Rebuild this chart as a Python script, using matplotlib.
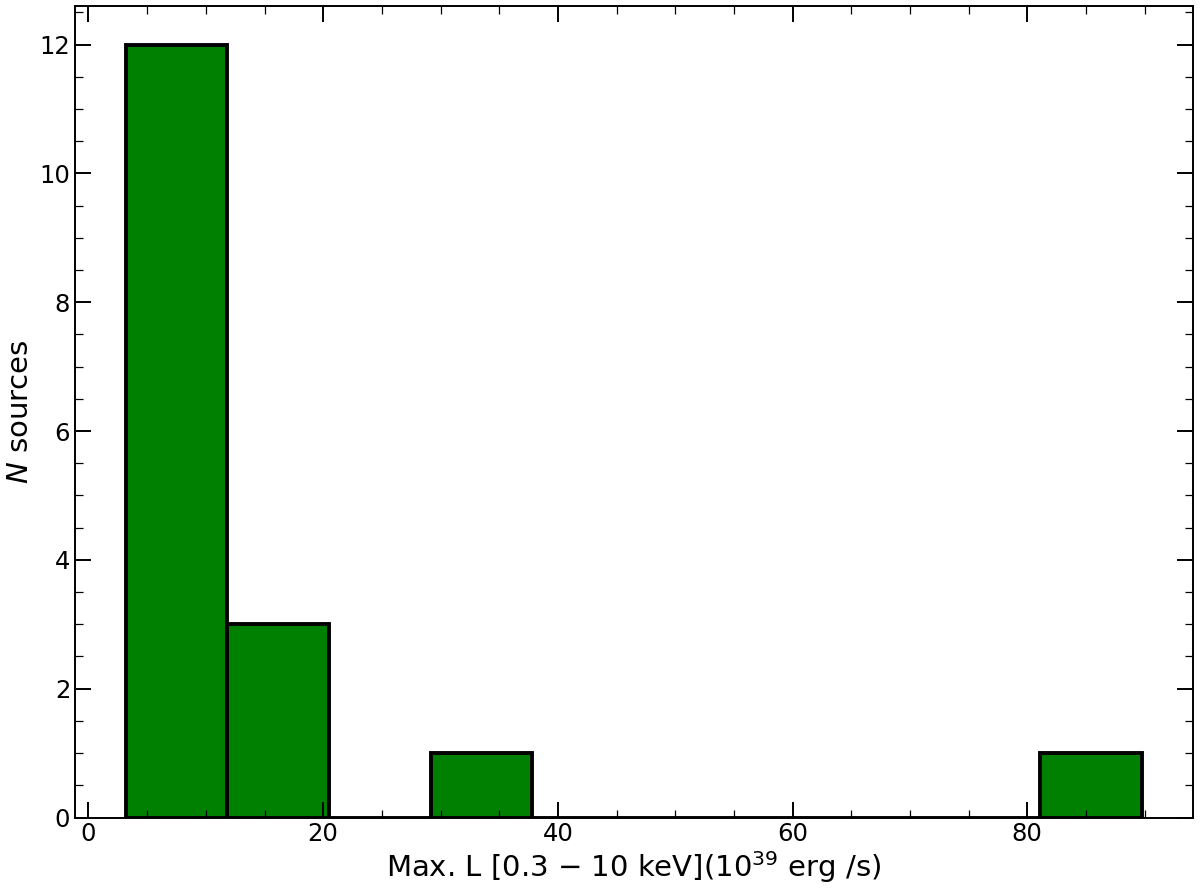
import matplotlib
matplotlib.use("Agg")
from matplotlib import pyplot as plt
from matplotlib.ticker import AutoMinorLocator
import numpy as np

# histogram of max luminosities (10^39 erg/s)
bin_edges = [3.18, 11.84, 20.50, 29.16, 37.82, 46.48, 55.14, 63.80, 72.46, 81.12, 89.78]
counts = [12, 3, 0, 1, 0, 0, 0, 0, 0, 1]

fig = plt.figure(figsize=(12, 8.92), dpi=100)
ax = fig.add_axes([0.0625, 0.0835, 0.9315, 0.9098])

edges = np.array(bin_edges)
ax.bar(edges[:-1], counts, width=np.diff(edges), align='edge',
       color='green', edgecolor='black', linewidth=2.8)

ax.xaxis.set_minor_locator(AutoMinorLocator())
ax.yaxis.set_minor_locator(AutoMinorLocator())
ax.tick_params(which='both', direction='in', top=True, right=True, labelsize=17.5)
ax.tick_params(which='major', length=11.5, width=1.4)
ax.tick_params(which='minor', length=5.5, width=0.9)
for s in ax.spines.values():
    s.set_linewidth(1.4)

ax.set_xlabel(r'Max. L [0.3 $-$ 10 keV](10$^{39}$ erg /s)', fontsize=21, labelpad=2)
ax.set_ylabel(r'$N$ sources', fontsize=21, labelpad=4)

fig.savefig('out.png', dpi=100)
